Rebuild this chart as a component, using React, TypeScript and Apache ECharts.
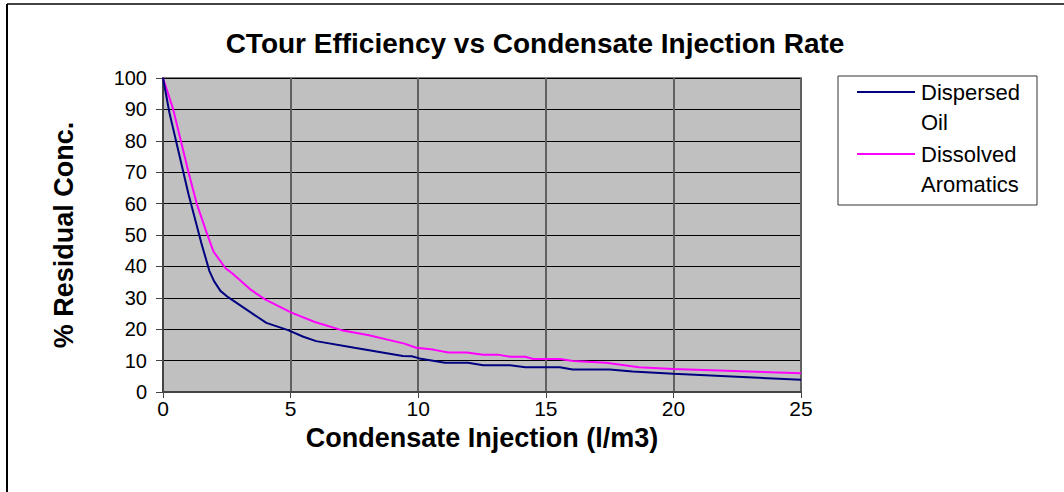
import React, { useEffect, useRef } from "react";
import * as echarts from "echarts";

const oilX = [0, 0.25, 1, 1.5, 1.82, 2.0, 2.25, 2.55, 4.05, 4.9, 5.5, 6.0, 7.5, 9.4, 9.75, 10.05, 11.05, 11.95, 12.55, 13.6, 14.2, 15.55, 16.05, 17.5, 18.4, 20, 25];
const oilY = [100, 89, 63, 47.5, 38.5, 35.3, 32.2, 30.2, 22, 19.7, 17.6, 16.2, 14.1, 11.5, 11.4, 10.7, 9.3, 9.3, 8.5, 8.5, 7.9, 7.9, 7.2, 7.2, 6.5, 5.8, 3.9];

const aroX = [0, 0.4, 1.0, 1.32, 1.72, 1.98, 2.45, 2.71, 3.45, 4.0, 5.03, 5.95, 7.0, 8.07, 9.46, 9.92, 10.58, 11.18, 11.9, 12.54, 13.12, 13.63, 14.2, 14.5, 15.56, 16.07, 17.36, 18.65, 20, 25];
const aroY = [100, 90, 70, 60, 50.5, 44.7, 39.4, 37.8, 32.5, 29.5, 25.3, 22.3, 19.7, 18.1, 15.4, 14.1, 13.5, 12.6, 12.6, 11.9, 11.9, 11.2, 11.2, 10.5, 10.5, 9.9, 9.3, 7.9, 7.3, 6.0];

const seriesNames = ["Dispersed Oil", "Dissolved Aromatics"];
const legendLines = [["Dispersed", "Oil"], ["Dissolved", "Aromatics"]];
const colors = ["#000080", "#FF00FF"];

const titleText = "CTour Efficiency vs Condensate Injection Rate";
const xName = "Condensate Injection (l/m3)";
const yName = "% Residual Conc.";

const FONT = "'Liberation Sans', Arial, sans-serif";

export default function App() {
  const ref = useRef<HTMLDivElement>(null);
  useEffect(() => {
    if (!ref.current) return;
    const chart = echarts.init(ref.current, undefined, { renderer: "svg" });
    const oil = oilX.map((x, i) => [x, oilY[i]]);
    const aro = aroX.map((x, i) => [x, aroY[i]]);
    const legendTop = 76;
    const legendLeft = 838;
    const graphics: any[] = [
      { type: "line", shape: { x1: 7, y1: 4, x2: 1064, y2: 4 }, style: { stroke: "#444", lineWidth: 2 } },
      { type: "line", shape: { x1: 7, y1: 4, x2: 7, y2: 492 }, style: { stroke: "#000", lineWidth: 2 } },
      { type: "rect", shape: { x: legendLeft, y: legendTop, width: 199, height: 129 }, style: { fill: "#fff", stroke: "#333", lineWidth: 1 } },
    ];
    legendLines.forEach((lines, i) => {
      const y0 = legendTop + 16 + i * 62;
      graphics.push({ type: "line", shape: { x1: 857, y1: y0, x2: 915, y2: y0 }, style: { stroke: colors[i], lineWidth: 2 } });
      lines.forEach((t, j) => {
        graphics.push({
          type: "text", x: 921, y: y0 + j * 30,
          style: { text: t, fill: "#000", font: `22px ${FONT}`, textVerticalAlign: "middle", textAlign: "left" },
        });
      });
    });
    chart.setOption({
      animation: false,
      backgroundColor: "#fff",
      title: {
        text: titleText, left: 530, top: 24, textAlign: "center",
        textStyle: { fontFamily: FONT, fontWeight: "bold", fontSize: 28, color: "#000" },
      },
      grid: {
        left: 163, top: 78, width: 638, height: 314,
        show: true, backgroundColor: "#C0C0C0", borderColor: "#808080", borderWidth: 2,
      },
      xAxis: {
        type: "value", min: 0, max: 25, interval: 5,
        name: xName, nameLocation: "middle", nameGap: 32,
        nameTextStyle: { fontFamily: FONT, fontWeight: "bold", fontSize: 27, color: "#000" },
        axisLine: { show: true, onZero: false, lineStyle: { color: "#444", width: 2 } },
        axisTick: { show: true, length: 6, lineStyle: { color: "#444", width: 1 } },
        axisLabel: { fontFamily: FONT, fontSize: 21, color: "#000", margin: 6 },
        splitLine: { show: true, lineStyle: { color: "#606060", width: 2 } },
      },
      yAxis: {
        type: "value", min: 0, max: 100, interval: 10,
        name: yName, nameLocation: "middle", nameGap: 86, nameRotate: 90,
        nameTextStyle: { fontFamily: FONT, fontWeight: "bold", fontSize: 27, color: "#000" },
        axisLine: { show: true, lineStyle: { color: "#444", width: 2 } },
        axisTick: { show: true, length: 7, lineStyle: { color: "#444", width: 1 } },
        axisLabel: { fontFamily: FONT, fontSize: 20, color: "#000", margin: 16 },
        splitLine: { show: true, lineStyle: { color: "#000", width: 1 } },
      },
      graphic: graphics,
      series: [
        { name: seriesNames[0], type: "line", data: oil, showSymbol: false, symbol: "none", lineStyle: { color: colors[0], width: 2 }, itemStyle: { color: colors[0] }, z: 3 },
        { name: seriesNames[1], type: "line", data: aro, showSymbol: false, symbol: "none", lineStyle: { color: colors[1], width: 2 }, itemStyle: { color: colors[1] }, z: 2 },
      ],
    });
    return () => chart.dispose();
  }, []);
  return <div ref={ref} style={{ position: "absolute", left: 0, top: 0, width: 1064, height: 492 }} />;
}
